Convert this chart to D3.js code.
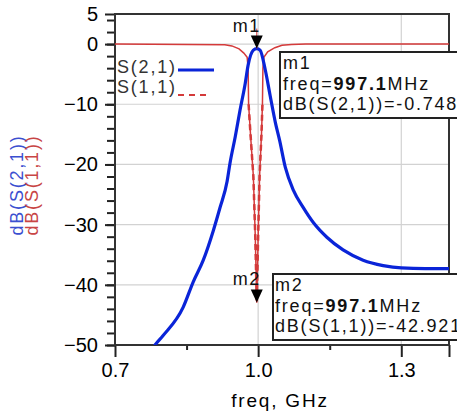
<!DOCTYPE html>
<html>
<head>
<meta charset="utf-8">
<script src="https://cdn.jsdelivr.net/npm/d3@7"></script>
<style>
    body { margin: 0; background: #fff; }
    text { font-family: "Liberation Sans", Arial, sans-serif; }
</style>
</head>
<body>
<div id="chart"></div>
<script>
// frequency (GHz) and dB values
var s21Freq = [0.770, 0.784, 0.800, 0.843, 0.864, 0.885, 0.906, 0.920, 0.935, 0.941, 0.952, 0.962, 0.973, 0.979, 0.990, 0.9971,
    1.004, 1.015, 1.025, 1.036, 1.045, 1.057, 1.074, 1.094, 1.116, 1.144, 1.178, 1.220, 1.262, 1.300, 1.350, 1.400];
var s21dB = [-52, -50, -48.5, -43.7, -39.5, -35.9, -31, -27.2, -22.8, -19.8, -15.4, -11, -6.5, -3.5, -1.0, -0.748,
    -1.0, -4.3, -8.5, -13, -16, -20.5, -24.3, -27.1, -29.7, -32.1, -34.2, -35.9, -36.8, -37.2, -37.3, -37.3];

var s11Freq = [0.700, 0.930, 0.945, 0.960, 0.970, 0.977, 0.979, 0.980, 0.984, 0.990, 0.994, 0.9971,
    1.000, 1.003, 1.007, 1.009, 1.010, 1.012, 1.020, 1.035, 1.050, 1.070, 1.100, 1.400];
var s11dB = [0, -0.1, -0.3, -0.8, -1.5, -2.2, -4, -10, -15, -22, -32, -42.921,
    -32, -22, -15, -10, -4, -2.2, -1.3, -0.6, -0.2, -0.05, 0, 0];

var yMajor = [5, 0, -10, -20, -30, -40, -50];
var yMinor = d3.range(-50, 5, 2);
var xMajor = [0.7, 1.0, 1.3, 1.4];
var xMinor = [0.85, 1.15];
var xLabels = [0.7, 1.0, 1.3];

var markers = [
    {name: "m1", freq: 0.9971, value: -0.748, trace: "dB(S(2,1))"},
    {name: "m2", freq: 0.9971, value: -42.921, trace: "dB(S(1,1))"}
];

var width = 457, height = 419,
    padding = {left: 115, right: 449, top: 14, bottom: 345};
var blue = "#0a24d8", red = "#d43a3a";

var svg = d3.select("#chart").append("svg")
    .attr("width", width).attr("height", height);

var x = d3.scaleLinear().domain([0.7, 1.4]).range([padding.left, padding.right]);
var y = d3.scaleLinear().domain([-50, 5]).range([padding.bottom, padding.top]);

// grid
svg.append("g").selectAll("line")
    .data([0, -10, -20, -30, -40])
    .enter().append("line")
    .attr("x1", padding.left).attr("x2", padding.right)
    .attr("y1", d => y(d)).attr("y2", d => y(d))
    .attr("stroke", "#d2d2d2").attr("stroke-width", 1.2);
svg.append("g").selectAll("line")
    .data([1.0, 1.3])
    .enter().append("line")
    .attr("y1", padding.top).attr("y2", padding.bottom)
    .attr("x1", d => x(d)).attr("x2", d => x(d))
    .attr("stroke", "#d2d2d2").attr("stroke-width", 1.2);

// axes
var yMin = svg.append("g").attr("transform", "translate(" + padding.left + ",0)")
    .call(d3.axisLeft(y).tickValues(yMinor).tickSize(8).tickSizeOuter(0).tickFormat(""));
var yMaj = svg.append("g").attr("transform", "translate(" + padding.left + ",0)")
    .call(d3.axisLeft(y).tickValues(yMajor).tickSize(10).tickSizeOuter(0).tickPadding(7));
var xMin = svg.append("g").attr("transform", "translate(0," + padding.bottom + ")")
    .call(d3.axisBottom(x).tickValues(xMinor).tickSize(5).tickSizeOuter(0).tickFormat(""));
var xMaj = svg.append("g").attr("transform", "translate(0," + padding.bottom + ")")
    .call(d3.axisBottom(x).tickValues(xMajor).tickSize(12).tickSizeOuter(0).tickPadding(6)
        .tickFormat(d => xLabels.indexOf(d) >= 0 ? d3.format(".1f")(d) : ""));
[yMin, yMaj, xMin, xMaj].forEach(function(g) {
    g.select(".domain").remove();
    g.selectAll(".tick line").attr("stroke", "#222").attr("stroke-width", 2);
});
yMaj.selectAll("text").attr("font-size", "20px").attr("fill", "#000")
    .attr("font-family", "Liberation Sans, Arial, sans-serif");
xMaj.selectAll("text").attr("font-size", "20px").attr("fill", "#000")
    .attr("font-family", "Liberation Sans, Arial, sans-serif");

// frame
svg.append("rect")
    .attr("x", padding.left).attr("y", padding.top)
    .attr("width", padding.right - padding.left).attr("height", padding.bottom - padding.top)
    .attr("fill", "none").attr("stroke", "#333").attr("stroke-width", 2);

// axis titles
var midY = 185;
svg.append("text")
    .attr("transform", "translate(23," + midY + ") rotate(-90)")
    .attr("text-anchor", "middle").attr("font-size", "18px")
    .attr("letter-spacing", "1.8px").attr("fill", "#3b4fd0")
    .text("dB(S(2,1))");
svg.append("text")
    .attr("transform", "translate(38," + midY + ") rotate(-90)")
    .attr("text-anchor", "middle").attr("font-size", "18px")
    .attr("letter-spacing", "1.8px").attr("fill", "#c84545")
    .text("dB(S(1,1))");
svg.append("text")
    .attr("x", (padding.left + padding.right) / 2 - 2).attr("y", 407)
    .attr("text-anchor", "middle").attr("font-size", "19px")
    .attr("letter-spacing", "1.8px").attr("fill", "#000")
    .text("freq, GHz");

// traces
svg.append("clipPath").attr("id", "plotclip")
    .append("rect").attr("x", padding.left).attr("y", padding.top)
    .attr("width", padding.right - padding.left).attr("height", padding.bottom - padding.top);
var plot = svg.append("g").attr("clip-path", "url(#plotclip)");

var s21 = s21Freq.map((f, i) => ({f: f, v: s21dB[i]}));
var s11 = s11Freq.map((f, i) => ({f: f, v: s11dB[i]}));
var line = d3.line().x(d => x(d.f)).y(d => y(d.v));
var smooth = d3.line().x(d => x(d.f)).y(d => y(d.v)).curve(d3.curveMonotoneX);

plot.append("path").datum(s11)
    .attr("d", line).attr("fill", "none")
    .attr("stroke", red).attr("stroke-width", 1.5);
plot.append("path").datum(s11.filter(d => d.v <= -10))
    .attr("d", line).attr("fill", "none")
    .attr("stroke", red).attr("stroke-width", 2.5)
    .attr("stroke-dasharray", "6,4");
plot.append("path").datum(s21)
    .attr("d", smooth).attr("fill", "none")
    .attr("stroke", blue).attr("stroke-width", 3.2);

// legend
var legend = [
    {label: "S(2,1)", color: blue, dash: null, w: 3, len: 36, yy: 73, ly: 70},
    {label: "S(1,1)", color: red, dash: "6,5", w: 2, len: 30, yy: 93, ly: 95}
];
legend.forEach(function(d) {
    svg.append("text").attr("x", 117).attr("y", d.yy)
        .attr("font-size", "18px").attr("letter-spacing", "1.8px")
        .attr("fill", "#333").text(d.label);
    svg.append("line")
        .attr("x1", 178).attr("x2", 178 + d.len)
        .attr("y1", d.ly).attr("y2", d.ly)
        .attr("stroke", d.color).attr("stroke-width", d.w)
        .attr("stroke-dasharray", d.dash);
});

// markers
markers.forEach(function(m) {
    var mx = x(m.freq), my = y(m.value);
    svg.append("line")
        .attr("x1", mx).attr("x2", mx).attr("y1", my - 20).attr("y2", my)
        .attr("stroke", red).attr("stroke-width", 1);
    svg.append("path")
        .attr("d", "M" + (mx - 6) + "," + (my - 13) + "L" + (mx + 6) + "," + (my - 13) + "L" + mx + "," + my + "Z")
        .attr("fill", "#000");
    svg.append("text").attr("x", mx - 10).attr("y", my - 17)
        .attr("text-anchor", "middle").attr("font-size", "18px")
        .attr("letter-spacing", "1.5px").attr("fill", "#111").text(m.name);
});

var boxes = [
    {m: markers[0], bx: 280, by: 52, tx: 283},
    {m: markers[1], bx: 273, by: 274, tx: 275}
];
boxes.forEach(function(b) {
    svg.append("rect")
        .attr("x", b.bx).attr("y", b.by).attr("width", 200).attr("height", 66)
        .attr("fill", "#fff").attr("stroke", "#222").attr("stroke-width", 2);
    var t = svg.append("g").attr("font-size", "18px").attr("letter-spacing", "1.8px").attr("fill", "#111");
    t.append("text").attr("x", b.tx).attr("y", b.by + 17).text(b.m.name);
    var f = t.append("text").attr("x", b.tx).attr("y", b.by + 38);
    f.append("tspan").text("freq=");
    f.append("tspan").attr("font-weight", "bold").text(d3.format(".1f")(b.m.freq * 1000));
    f.append("tspan").text("MHz");
    t.append("text").attr("x", b.tx).attr("y", b.by + 58)
        .text(b.m.trace + "=" + b.m.value);
});
</script>
</body>
</html>
